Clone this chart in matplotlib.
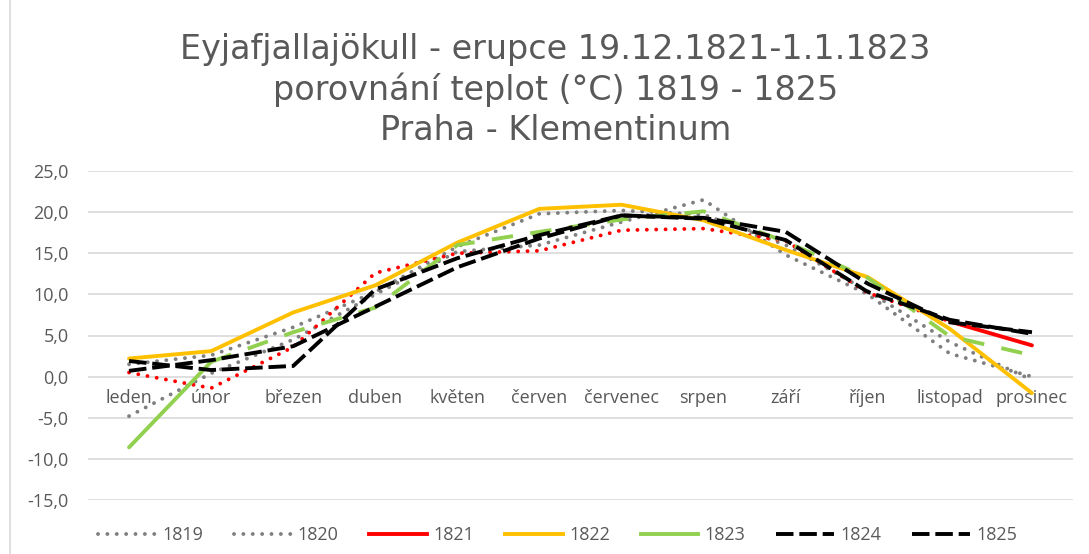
import matplotlib
matplotlib.use('Agg')
import matplotlib.pyplot as plt
from matplotlib.lines import Line2D
from matplotlib.ticker import FuncFormatter

plt.rcParams['font.family'] = ['Open Sans', 'DejaVu Sans']

months = ['leden', 'únor', 'březen', 'duben', 'květen', 'červen', 'červenec',
          'srpen', 'září', 'říjen', 'listopad', 'prosinec']

t1819 = [1.5, 2.6, 6.0, 10.3, 15.8, 19.8, 20.2, 19.7, 16.0, 10.4, 4.2, -0.4]
t1820 = [-4.8, 0.4, 4.5, 10.0, 15.2, 16.0, 18.8, 21.5, 14.8, 10.0, 2.8, 0.0]
t1821 = [0.5, -1.4, 3.6, 12.6, 15.0, 15.3, 17.8, 18.0, 16.5, 10.2, 6.7, 3.8]
t1822 = [2.2, 3.1, 7.8, 11.1, 16.3, 20.4, 20.9, 19.0, 15.4, 12.1, 5.8, -2.0]
t1823 = [-8.6, 1.8, 5.4, 8.4, 16.0, 17.6, 19.1, 20.1, 16.4, 12.0, 4.9, 2.6]
t1824 = [1.9, 0.8, 1.3, 10.6, 14.4, 17.2, 19.6, 19.3, 17.6, 11.3, 6.6, 5.4]
t1825 = [0.7, 2.0, 3.7, 8.5, 13.3, 16.8, 19.6, 19.2, 16.6, 10.3, 6.9, 5.2]

GRAY = '#7F7F7F'
RED = '#FF0000'
ORANGE = '#FFC000'
GREEN = '#92D050'
TEXT = '#595959'

LW = 2.8
DOT = (0, (0.01, 2.4))
DASH = (0, (4.5, 1.5))
GDASH = (0, (5.5, 4.5))

fig = plt.figure(figsize=(10.89, 5.54), dpi=100)
ax = fig.add_axes([88 / 1089, 1 - 500 / 554, 985 / 1089, 329 / 554])

x = list(range(len(months)))

ax.plot(x, t1819, color=GRAY, lw=LW, linestyle=DOT, dash_capstyle='round')
ax.plot(x, t1820, color=GRAY, lw=LW, linestyle=DOT, dash_capstyle='round')
# 1821: dotted until November, solid for December (eruption)
ax.plot(x[:11], t1821[:11], color=RED, lw=LW, linestyle=DOT, dash_capstyle='round')
ax.plot(x[10:], t1821[10:], color=RED, lw=LW, solid_capstyle='round')
ax.plot(x, t1822, color=ORANGE, lw=LW, solid_capstyle='round')
# 1823: solid for January (eruption), dashed afterwards
ax.plot(x[:2], t1823[:2], color=GREEN, lw=LW, solid_capstyle='round')
ax.plot(x[1:], t1823[1:], color=GREEN, lw=LW, linestyle=GDASH)
ax.plot(x, t1824, color='black', lw=LW, linestyle=DASH)
ax.plot(x, t1825, color='black', lw=LW, linestyle=DASH)

ax.set_xlim(-0.5, 11.5)
ax.set_ylim(-15, 25)
ax.set_yticks(range(-15, 30, 5))
ax.yaxis.set_major_formatter(FuncFormatter(lambda v, p: f'{v:.1f}'.replace('.', ',')))
ax.grid(axis='y', color='#D9D9D9', lw=1.2)
ax.set_axisbelow(True)

ax.set_xticks(x)
ax.set_xticklabels(months)
ax.spines['bottom'].set_position(('data', 0))
for s in ax.spines.values():
    s.set_visible(False)
ax.tick_params(axis='x', length=0, pad=9, labelsize=13, labelcolor=TEXT)
ax.tick_params(axis='y', length=0, pad=14, labelsize=13, labelcolor=TEXT)

fig.text(0.51, 1 - 90 / 554,
         'Eyjafjallajökull - erupce 19.12.1821-1.1.1823\n'
         'porovnání teplot (°C) 1819 - 1825\nPraha - Klementinum',
         ha='center', va='center', fontsize=24, color=TEXT, linespacing=1.25,
         family=['DejaVu Sans'])

handles = [
    Line2D([], [], color=GRAY, lw=LW, linestyle=DOT, dash_capstyle='round'),
    Line2D([], [], color=GRAY, lw=LW, linestyle=DOT, dash_capstyle='round'),
    Line2D([], [], color=RED, lw=LW),
    Line2D([], [], color=ORANGE, lw=LW),
    Line2D([], [], color=GREEN, lw=LW),
    Line2D([], [], color='black', lw=LW, linestyle=DASH),
    Line2D([], [], color='black', lw=LW, linestyle=DASH),
]
labels = ['1819', '1820', '1821', '1822', '1823', '1824', '1825']
leg = fig.legend(handles, labels, loc='center', bbox_to_anchor=(0.512, 1 - 535 / 554),
                 ncol=7, frameon=False, fontsize=13, handlelength=3.2,
                 handletextpad=0.35, columnspacing=1.7)
for t in leg.get_texts():
    t.set_color(TEXT)

fig.add_artist(Line2D([10 / 1089, 10 / 1089], [0, 1], color='#D9D9D9', lw=1.2))

fig.savefig('out.png', dpi=100)
